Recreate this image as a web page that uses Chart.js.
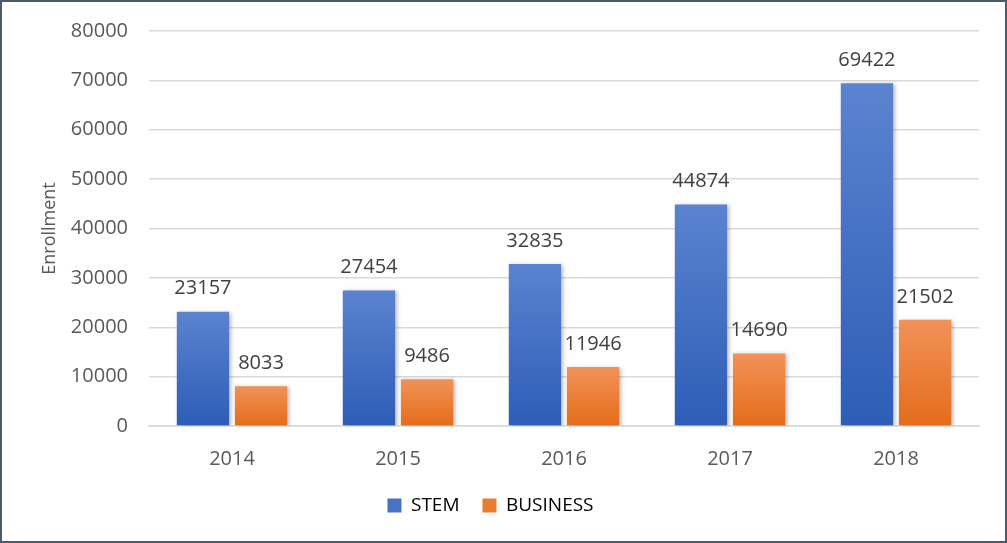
<!DOCTYPE html>
<html>
<head>
    <title>Enrollment</title>
    <script src="https://cdn.jsdelivr.net/npm/chart.js@4"></script>
    <style>
        html, body { margin: 0; padding: 0; background: #fff; }
        .frame {
            width: 1007px;
            height: 543px;
            box-sizing: border-box;
            border: 2px solid #4a5a72;
            position: relative;
        }
    </style>
</head>
<body>
    <div class="frame">
        <canvas id="enrollChart" width="1003" height="539"></canvas>
    </div>

    <script>
        const years = ['2014', '2015', '2016', '2017', '2018'];
        const stem = [23157, 27454, 32835, 44874, 69422];
        const business = [8033, 9486, 11946, 14690, 21502];
        const yTicks = [0, 10000, 20000, 30000, 40000, 50000, 60000, 70000, 80000];

        const font = "'Open Sans', 'Noto Sans', sans-serif";

        function barGradient(top, bottom) {
            return function (ctx) {
                const chart = ctx.chart;
                if (!chart.chartArea || ctx.parsed === undefined) return bottom;
                const y = chart.scales.y;
                const y0 = y.getPixelForValue(ctx.parsed.y);
                const y1 = y.getPixelForValue(0);
                const g = chart.ctx.createLinearGradient(0, y0, 0, y1);
                g.addColorStop(0, top);
                g.addColorStop(1, bottom);
                return g;
            };
        }

        // soft shadow behind bars
        const shadowPlugin = {
            id: 'barShadow',
            beforeDatasetsDraw(chart) {
                const c = chart.ctx;
                c.save();
                c.shadowColor = 'rgba(0,0,0,0.28)';
                c.shadowBlur = 4;
                c.shadowOffsetX = 2;
                c.shadowOffsetY = 1;
            },
            afterDatasetsDraw(chart) {
                chart.ctx.restore();
            }
        };

        // value labels above bars
        const valueLabels = {
            id: 'valueLabels',
            afterDatasetsDraw(chart) {
                const c = chart.ctx;
                c.save();
                c.font = '20px ' + font;
                c.fillStyle = '#404040';
                c.textAlign = 'center';
                c.textBaseline = 'middle';
                chart.data.datasets.forEach((ds, i) => {
                    chart.getDatasetMeta(i).data.forEach((bar, j) => {
                        c.fillText(String(ds.data[j]), bar.x, bar.y - 23);
                    });
                });
                c.restore();
            }
        };

        new Chart(document.getElementById('enrollChart'), {
            type: 'bar',
            data: {
                labels: years,
                datasets: [{
                    label: 'STEM',
                    data: stem,
                    backgroundColor: barGradient('#5b83cf', '#2d5db7'),
                    categoryPercentage: 0.7,
                    barPercentage: 0.9
                }, {
                    label: 'BUSINESS',
                    data: business,
                    backgroundColor: barGradient('#f19259', '#e56c1a'),
                    categoryPercentage: 0.7,
                    barPercentage: 0.9
                }]
            },
            options: {
                responsive: false,
                animation: false,
                layout: {
                    padding: { top: 29, right: 26, bottom: 16, left: 0 }
                },
                plugins: {
                    tooltip: { enabled: false },
                    legend: {
                        position: 'bottom',
                        labels: {
                            boxWidth: 14,
                            boxHeight: 14,
                            padding: 23,
                            color: '#595959',
                            font: { family: font, size: 19 },
                            generateLabels(chart) {
                                const cols = ['#4a72c4', '#ec7b32'];
                                return chart.data.datasets.map((ds, i) => ({
                                    text: ds.label,
                                    fillStyle: cols[i],
                                    strokeStyle: cols[i],
                                    lineWidth: 0,
                                    datasetIndex: i
                                }));
                            }
                        }
                    }
                },
                scales: {
                    x: {
                        grid: { display: false },
                        border: { color: '#d9d9d9', width: 1.5 },
                        ticks: {
                            color: '#595959',
                            padding: 13,
                            font: { family: font, size: 20 }
                        },
                        afterFit(scale) { scale.height = 47; }
                    },
                    y: {
                        min: 0,
                        max: 80000,
                        afterBuildTicks(scale) {
                            scale.ticks = yTicks.map(v => ({ value: v }));
                        },
                        border: { display: false },
                        grid: { color: '#d9d9d9', lineWidth: 1.5, drawTicks: false },
                        ticks: {
                            color: '#595959',
                            padding: 21,
                            font: { family: font, size: 20 },
                            callback: v => String(v)
                        },
                        title: {
                            display: true,
                            text: 'Enrollment',
                            color: '#595959',
                            font: { family: font, size: 18 },
                            padding: { top: 37, bottom: 0 }
                        },
                        afterFit(scale) {
                            scale.width = 147;
                            scale.paddingTop = 12;
                            scale.paddingBottom = 12;
                        }
                    }
                }
            },
            plugins: [shadowPlugin, valueLabels]
        });
    </script>
</body>
</html>
